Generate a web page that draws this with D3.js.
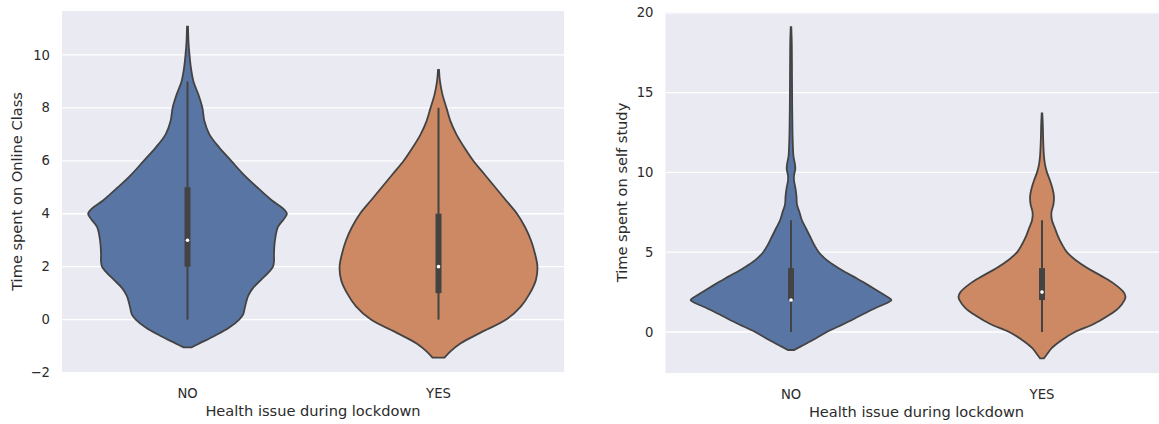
<!DOCTYPE html>
<html>
<head>
<meta charset="utf-8">
<script src="https://cdn.jsdelivr.net/npm/d3@7"></script>
<style>
  body { margin: 0; background: #fff; }
  text { font-family: "DejaVu Sans", sans-serif; fill: #2b2b2b; }
</style>
</head>
<body>
<svg id="chart" width="1159" height="424"></svg>
<script>
// categories on the x axis of both panels
var categories = ["NO", "YES"];
var colors = ["#5975a4", "#cc8963"];

// left panel: Time spent on Online Class, violin outline (value, relative half width)
var onlineNoVal = [11.07, 10.5, 10.0, 9.5, 9.0, 8.5, 8.0, 7.5, 7.0, 6.5, 6.0, 5.5, 5.0, 4.5, 4.2, 4.0, 3.8, 3.5, 3.0, 2.5, 2.2, 2.0, 1.8, 1.5, 1.2, 0.9, 0.5, 0.2, 0.0, -0.3, -0.6, -0.9, -1.05];
var onlineNoWid = [0.5, 1, 2, 3.5, 6, 11, 15, 17, 22, 32, 44, 56, 70, 85, 96, 100, 97, 91, 88, 87, 87, 86, 82, 74, 66, 61, 58, 56, 52, 42, 28, 12, 4];
var onlineYesVal = [9.43, 9.0, 8.5, 8.0, 7.5, 7.0, 6.5, 6.0, 5.5, 5.0, 4.5, 4.0, 3.5, 3.0, 2.5, 2.0, 1.5, 1.0, 0.5, 0.0, -0.5, -0.9, -1.2, -1.44];
var onlineYesWid = [0.5, 1.5, 4, 8, 12, 18, 26, 35, 46, 57, 68, 79, 87, 93, 97, 99.5, 98, 92, 83, 68, 42, 22, 12, 6];

// right panel: Time spent on self study
var studyNoVal = [19.1, 18, 16, 14, 12.5, 11.5, 11, 10.5, 10.2, 9.8, 9.5, 9.0, 8.5, 8.0, 7.5, 7.0, 6.5, 6.0, 5.5, 5.0, 4.5, 4.0, 3.5, 3.0, 2.5, 2.2, 2.0, 1.8, 1.5, 1.0, 0.5, 0.0, -0.5, -0.9, -1.13];
var studyNoWid = [0.3, 0.8, 1, 1.2, 1.5, 2, 2.5, 4, 4.3, 3, 3, 4.5, 5.5, 6, 8.5, 11, 15, 19, 23, 28, 36, 48, 62, 76, 89, 97, 101, 96, 85, 69, 53, 36, 22, 10, 3];
var studyYesVal = [13.7, 13, 12, 11, 10.5, 10, 9.5, 9.0, 8.5, 8.0, 7.5, 7.0, 6.5, 6.0, 5.5, 5.0, 4.5, 4.0, 3.5, 3.0, 2.5, 2.2, 2.0, 1.5, 1.0, 0.5, 0.0, -0.5, -1.0, -1.4, -1.65];
var studyYesWid = [0.3, 0.8, 1.2, 2, 3, 5, 8, 10.5, 12, 11.5, 9.5, 10, 13, 16, 20, 25, 34, 46, 60, 73, 82, 84, 83, 77, 66, 52, 33, 20, 10, 5, 2];

// inner box stats per category
var onlineLo = [0, 0], onlineQ1 = [2, 1], onlineMed = [3, 2], onlineQ3 = [5, 4], onlineHi = [9, 8];
var studyLo = [0, 0], studyQ1 = [2, 2], studyMed = [2, 2.5], studyQ3 = [4, 4], studyHi = [7, 7];

var onlineTicks = [-2, 0, 2, 4, 6, 8, 10];
var studyTicks = [0, 5, 10, 15, 20];

var svg = d3.select("#chart");

function zip(vals, wids) {
    return vals.map(function (v, i) { return { v: v, w: wids[i] }; });
}

function drawPanel(opts) {
    var x = d3.scaleBand().domain(categories).range([opts.x0, opts.x1]).padding(0);
    var y = d3.scaleLinear().domain(opts.yDomain).range([opts.y1, opts.y0]);
    var bw = x.bandwidth();
    var w = d3.scaleLinear().domain([0, 101]).range([0, bw * 0.4]);

    var g = svg.append("g");

    g.append("rect")
        .attr("x", opts.x0).attr("y", opts.y0)
        .attr("width", opts.x1 - opts.x0).attr("height", opts.y1 - opts.y0)
        .attr("fill", "#eaeaf2");

    g.append("g").selectAll("line")
        .data(opts.ticks)
        .enter().append("line")
        .attr("x1", opts.x0).attr("x2", opts.x1)
        .attr("y1", function (d) { return y(d); })
        .attr("y2", function (d) { return y(d); })
        .attr("stroke", "#fff")
        .attr("stroke-width", 1.3);

    g.append("g").selectAll("text")
        .data(opts.ticks)
        .enter().append("text")
        .attr("x", opts.x0 - 12)
        .attr("y", function (d) { return y(d); })
        .attr("dy", "0.35em")
        .attr("text-anchor", "end")
        .style("font-size", "13.2px")
        .text(function (d) { return d < 0 ? "\u2212" + Math.abs(d) : d; });

    categories.forEach(function (c, i) {
        var cx = x(c) + bw / 2;
        var pts = opts.shapes[i];
        var area = d3.area()
            .curve(d3.curveCatmullRom)
            .y(function (d) { return y(d.v); })
            .x0(function (d) { return cx - w(d.w); })
            .x1(function (d) { return cx + w(d.w); });
        g.append("path")
            .datum(pts)
            .attr("d", area)
            .attr("fill", colors[i])
            .attr("stroke", "#434343")
            .attr("stroke-width", 1.8);

        var s = opts.box;
        g.append("line")
            .attr("x1", cx).attr("x2", cx)
            .attr("y1", y(s.lo[i])).attr("y2", y(s.hi[i]))
            .attr("stroke", "#434343").attr("stroke-width", 2);
        g.append("line")
            .attr("x1", cx).attr("x2", cx)
            .attr("y1", y(s.q1[i])).attr("y2", y(s.q3[i]))
            .attr("stroke", "#434343").attr("stroke-width", 6);
        g.append("circle")
            .attr("cx", cx).attr("cy", y(s.med[i]))
            .attr("r", 1.8)
            .attr("fill", "#fff");

        g.append("text")
            .attr("x", cx).attr("y", opts.y1 + 21)
            .attr("dy", "0.35em")
            .attr("text-anchor", "middle")
            .style("font-size", "13.2px")
            .text(c);
    });

    g.append("text")
        .attr("x", (opts.x0 + opts.x1) / 2).attr("y", opts.y1 + 39)
        .attr("dy", "0.35em")
        .attr("text-anchor", "middle")
        .style("font-size", "14.6px")
        .text(opts.xLabel);

    g.append("text")
        .attr("transform", "translate(" + opts.yLabelX + "," + ((opts.y0 + opts.y1) / 2) + ") rotate(-90)")
        .attr("dy", "0.35em")
        .attr("text-anchor", "middle")
        .style("font-size", "14.6px")
        .text(opts.yLabel);
}

drawPanel({
    x0: 62, x1: 564, y0: 11, y1: 372,
    yDomain: [-1.98, 11.66],
    ticks: onlineTicks,
    shapes: [zip(onlineNoVal, onlineNoWid), zip(onlineYesVal, onlineYesWid)],
    box: { lo: onlineLo, q1: onlineQ1, med: onlineMed, q3: onlineQ3, hi: onlineHi },
    xLabel: "Health issue during lockdown",
    yLabel: "Time spent on Online Class",
    yLabelX: 17
});

drawPanel({
    x0: 665.5, x1: 1167.5, y0: 12, y1: 373,
    yDomain: [-2.57, 20.05],
    ticks: studyTicks,
    shapes: [zip(studyNoVal, studyNoWid), zip(studyYesVal, studyYesWid)],
    box: { lo: studyLo, q1: studyQ1, med: studyMed, q3: studyQ3, hi: studyHi },
    xLabel: "Health issue during lockdown",
    yLabel: "Time spent on self study",
    yLabelX: 622
});
</script>
</body>
</html>
